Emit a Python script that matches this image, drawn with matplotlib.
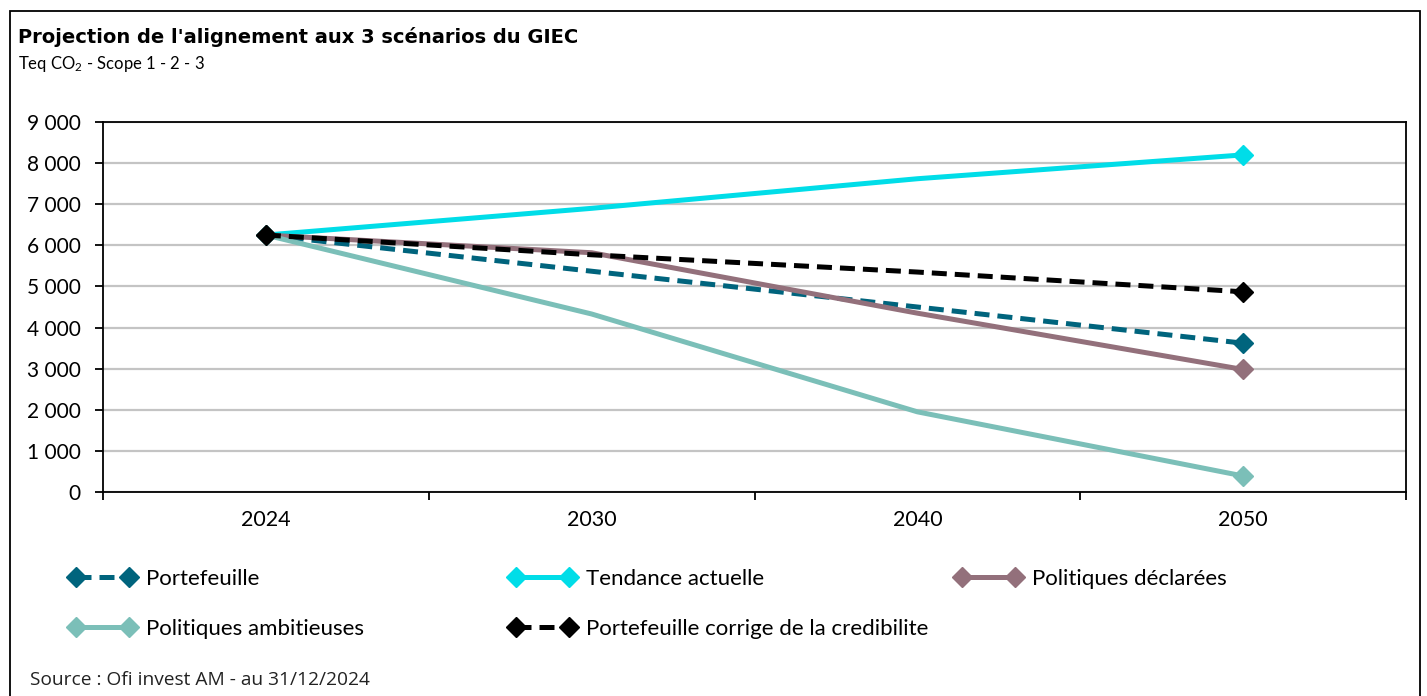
import matplotlib.pyplot as plt
from matplotlib.patches import Rectangle

plt.rcParams['font.family'] = ['Lato', 'DejaVu Sans']
plt.rcParams['mathtext.default'] = 'regular'

years = ['2024', '2030', '2040', '2050']
portefeuille = [6250, 5370, 4500, 3620]
tendance = [6250, 6900, 7620, 8200]
declarees = [6250, 5820, 4350, 2980]
ambitieuses = [6250, 4330, 1950, 390]
credibilite = [6250, 5770, 5350, 4870]

names = ['Portefeuille', 'Tendance actuelle', 'Politiques déclarées',
         'Politiques ambitieuses', 'Portefeuille corrige de la credibilite']
colors = ['#00647D', '#00DDE8', '#93707B', '#7BBFB8', '#000000']
dashed = [True, False, False, False, True]
series = [portefeuille, tendance, declarees, ambitieuses, credibilite]

W, H = 1427, 696
fig = plt.figure(figsize=(W / 100, H / 100), dpi=100)
ax = fig.add_axes([103 / W, 1 - 492 / H, (1406 - 103) / W, (492 - 122) / H])

x = list(range(len(years)))
lines = []
for vals, name, col, dsh in zip(series, names, colors, dashed):
    ln, = ax.plot(x, vals, color=col, lw=3.6, marker='D', ms=10.5,
                  markevery=[0, len(vals) - 1], label=name, zorder=3)
    if dsh:
        ln.set_dashes((3, 1.6))
    lines.append(ln)

ax.set_xlim(-0.5, 3.5)
ax.set_ylim(0, 9000)
ax.set_xticks([i - 0.5 for i in range(len(years) + 1)])
ax.set_xticklabels([])
ax.set_xticks(x, minor=True)
ax.set_xticklabels(years, minor=True, fontsize=15.5)
ax.tick_params(axis='x', which='minor', length=0, pad=13)
ax.tick_params(axis='x', which='major', length=6, width=1.3, direction='out')
ax.set_yticks(range(0, 9001, 1000))
ax.set_yticklabels([f'{v:,}'.replace(',', ' ') for v in range(0, 9001, 1000)], fontsize=15)
ax.tick_params(axis='y', length=6, width=1.3, direction='out', pad=10)
ax.grid(axis='y', color='#C4C4C4', lw=1.6, zorder=0)
for s in ax.spines.values():
    s.set_linewidth(1.3)
    s.set_color('black')

# legend, one block per entry
pos = [(69, 579), (509, 579), (955, 579), (69, 629), (509, 629)]
for ln, (px, py) in zip(lines, pos):
    fig.legend(handles=[ln], loc='center left', bbox_to_anchor=(px / W, 1 - py / H),
               frameon=False, fontsize=16, numpoints=2, handlelength=3.0,
               handletextpad=0.45, borderpad=0, borderaxespad=0)

fig.text(18 / W, 1 - 37 / H, "Projection de l'alignement aux 3 scénarios du GIEC",
         fontsize=14, fontweight='bold', va='center', ha='left', family='DejaVu Sans')
fig.text(18 / W, 1 - 64 / H, 'Teq CO$_2$ - Scope 1 - 2 - 3',
         fontsize=12, va='center', ha='left')
fig.text(30 / W, 1 - 680 / H, 'Source : Ofi invest AM - au 31/12/2024',
         fontsize=13.8, va='center', ha='left', color='#222222', family='Open Sans')

fig.add_artist(Rectangle((10 / W, -0.05), 1410 / W, 1.05 - 11 / H, transform=fig.transFigure,
                         fill=False, edgecolor='black', lw=1.3))

fig.savefig('out.png', dpi=100)
